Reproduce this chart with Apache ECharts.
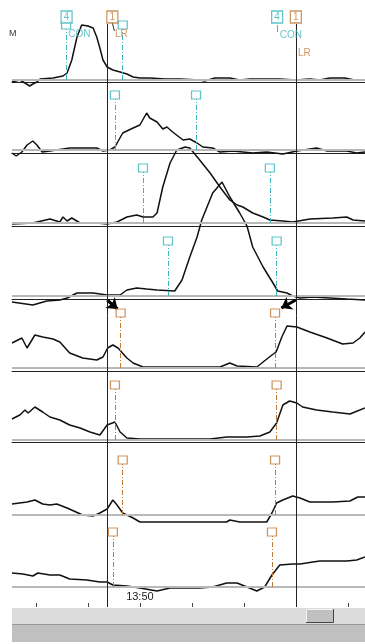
<!DOCTYPE html>
<html>
<head>
<meta charset="utf-8">
<script src="https://cdn.jsdelivr.net/npm/echarts@6/dist/echarts.min.js"></script>
<style>
html,body{margin:0;padding:0;background:#fff;}
#c{width:365px;height:644px;}
</style>
</head>
<body>
<div id="c"></div>
<script>
// Time axis: seconds relative to 13:50:00
const T_MIN = -24.6, T_MAX = 43.3;
const tickTimes = [-20, -10, 0, 10, 20, 30, 40];
const tickLabels = { 0: '13:50' };
const eventTimes = [-6.3, 30.0];

// Channel traces: [time (s), amplitude]
const trace1 = [[-24.6,-2],[-23.1,0],[-22.1,-3],[-21.2,-6],[-20.6,-4],[-19.8,-2],[-19.2,1],[-16.7,2],[-14.8,4],[-14.0,7],[-13.1,20],[-12.1,43],[-11.2,55],[-10.0,54],[-9.0,52],[-8.3,43],[-7.7,32],[-7.1,20],[-6.3,13],[-5.2,10],[-3.8,8],[-2.5,6],[-1.3,3],[0,2],[1.9,2],[4.8,1],[7.7,1],[11.5,0],[12.5,-1],[14.4,2],[17.3,2],[19.2,0],[21.2,1],[24.0,1],[26.9,1],[30.0,0],[32.7,1],[34.6,0],[36.5,2],[39.4,2],[41.3,0],[43.3,0]];
const trace2 = [[-24.6,-3],[-23.8,-6],[-22.7,-2],[-21.7,5],[-20.6,9],[-19.8,5],[-18.8,-2],[-17.3,-1],[-13.5,2],[-11.5,2],[-8.3,2],[-7.1,-1],[-5.8,0],[-4.8,3],[-3.3,17],[-1.3,22],[0,25],[1.3,37],[1.9,32],[3.3,28],[4.4,21],[5.2,23],[6.3,18],[8.3,10],[9.6,11],[11.0,7],[12.1,3],[14.0,2],[15.4,-2],[17.9,-1],[21.7,-3],[24.4,-2],[27.5,-4],[30.2,-1],[34.0,2],[36.0,-1],[39.8,-1],[41.7,-3],[43.3,-2]];
const trace3 = [[-24.6,-1],[-20.6,0],[-17.3,4],[-15.4,1],[-14.8,6],[-14.0,2],[-13.1,5],[-11.5,0],[-8.3,0],[-6.3,-1],[-4.4,1],[-2.5,6],[-0.6,8],[0.6,6],[2.5,6],[3.3,10],[4.4,36],[5.8,60],[7.1,73],[8.7,76],[9.6,75],[11.5,63],[13.5,50],[15.4,36],[17.3,23],[18.7,18],[19.8,16],[21.7,10],[23.7,6],[25.0,3],[27.5,2],[29.4,1],[32.7,4],[37.1,5],[39.8,6],[41.0,3],[43.3,2]];
const trace4 = [[-24.6,-6],[-20.6,-9],[-17.9,-5],[-15.4,-4],[-14.0,-2],[-12.1,3],[-9.0,3],[-6.3,1],[-3.8,1],[-2.5,6],[-0.6,8],[1.3,7],[3.3,6],[6.7,5],[8.1,16],[9.6,39],[11.0,59],[11.9,76],[14.0,103],[15.8,114],[17.3,99],[19.2,83],[20.6,70],[21.7,49],[23.7,29],[25.6,13],[26.5,5],[28.3,3],[29.4,0],[30.8,-2],[33.3,-1],[36.5,-2],[39.8,-3],[43.3,-4]];
const trace5 = [[-24.6,25],[-22.7,30],[-21.7,20],[-20.2,33],[-18.7,31],[-16.7,29],[-15.4,26],[-13.5,15],[-11.0,10],[-8.3,8],[-7.1,11],[-6.2,20],[-5.2,23],[-4.2,20],[-2.5,10],[-1.3,5],[0.6,1],[5.2,1],[15.4,1],[17.3,5],[18.7,2],[22.5,1],[23.7,6],[25.4,13],[26.2,16],[27.3,31],[28.3,42],[30.2,41],[32.7,36],[36.0,30],[39.0,24],[41.0,25],[42.3,30],[43.3,36]];
const trace6 = [[-24.6,21],[-23.1,25],[-22.1,30],[-21.5,27],[-20.2,33],[-18.7,28],[-17.3,23],[-15.4,20],[-13.5,15],[-11.5,12],[-9.6,8],[-7.7,5],[-6.3,15],[-4.8,18],[-3.8,8],[-2.5,2],[0,1],[13.5,1],[16.7,3],[20.6,3],[23.1,4],[25.0,8],[26.3,17],[27.5,35],[28.8,39],[30.2,37],[31.3,33],[34.0,30],[37.1,28],[40.4,26],[43.3,32]];
const trace7 = [[-24.6,11],[-21.7,13],[-20.2,15],[-18.7,11],[-17.3,10],[-16.0,11],[-14.0,7],[-11.0,0],[-9.0,-1],[-7.7,2],[-6.3,6],[-5.2,15],[-4.4,10],[-3.3,2],[-1.3,-3],[0,-7],[16.7,-7],[17.3,-5],[19.2,-7],[24.4,-7],[25.4,2],[26.3,12],[27.5,15],[29.4,19],[30.8,17],[32.7,13],[37.1,13],[40.4,14],[41.9,18],[43.3,18]];
const trace8 = [[-24.6,14],[-22.5,13],[-20.6,11],[-19.6,14],[-17.3,12],[-15.4,12],[-13.5,8],[-10.2,7],[-7.7,5],[-6.3,5],[-5.2,2],[-2.5,1],[0,-1],[3.3,-4],[5.8,-1],[11.5,-1],[14.0,0],[16.7,4],[18.7,4],[20.6,0],[22.5,-4],[24.0,0],[25.4,12],[26.9,22],[29.4,23],[30.8,23],[33.3,25],[34.6,26],[37.1,26],[39.8,26],[41.7,27],[43.3,30]];

// Scored event markers per channel (times in s)
const marks1 = [-14.2, -3.3];
const marks2 = [-4.8, 10.8];
const marks3 = [0.6, 25.0];
const marks4 = [5.4, 26.3];
const marks5 = [-3.7, 26.0];
const marks6 = [-4.8, 26.3];
const marks7 = [-3.3, 26.0];
const marks8 = [-5.2, 25.4];

// Event header tags
const tag4Times = [-14.1, 26.4];
const tag1Times = [-5.3, 30.0];
const conTimes = [-14.0, 26.7];
const lrTimes = [-5.0, 30.2];

const TEAL = '#3ab5bd';
const ORANGE = '#c27a3a';
const FONT = 'Liberation Sans, Arial, sans-serif';

const traces = [trace1, trace2, trace3, trace4, trace5, trace6, trace7, trace8];
const marks = [marks1, marks2, marks3, marks4, marks5, marks6, marks7, marks8];
const markColors = [TEAL, TEAL, TEAL, TEAL, ORANGE, ORANGE, ORANGE, ORANGE];

// Channel strip layout: top, height (baseline at bottom), separator offset
const strips = [
  { top: 0,   h: 80, sep: 2 },
  { top: 82,  h: 68, sep: 3 },
  { top: 153, h: 70, sep: 3 },
  { top: 226, h: 70, sep: 3 },
  { top: 299, h: 69, sep: 3 },
  { top: 371, h: 69, sep: 2 },
  { top: 442, h: 73, sep: null },
  { top: 515, h: 72, sep: null }
];
const MARK_H = 55;

const grid = [], xAxis = [], yAxis = [], series = [];

strips.forEach((s, i) => {
  grid.push({ left: 12, right: 0, top: s.top, height: s.h });
  const last = i === strips.length - 1;
  xAxis.push({
    type: 'value', gridIndex: i, min: T_MIN, max: T_MAX,
    position: 'bottom',
    offset: last ? 20 : (s.sep || 0),
    axisLine: { show: s.sep !== null, onZero: false, lineStyle: { color: '#222', width: 1 } },
    axisTick: last ? { show: true, inside: true, length: 4, customValues: tickTimes, lineStyle: { color: '#444' } } : { show: false },
    axisLabel: last ? {
      show: true, inside: true, margin: 5, customValues: [0],
      formatter: v => tickLabels[v] || '', fontSize: 11, color: '#222', fontFamily: FONT
    } : { show: false },
    splitLine: { show: false }
  });
  yAxis.push({ type: 'value', gridIndex: i, min: 0, max: s.h, show: false });

  series.push({
    type: 'line', xAxisIndex: i, yAxisIndex: i,
    data: traces[i], showSymbol: false, clip: false, z: 4,
    lineStyle: { color: '#111', width: 1.5 },
    animation: false,
    markLine: {
      silent: true, symbol: 'none', label: { show: false },
      lineStyle: { color: '#b8b8b8', width: 2, type: 'solid' },
      data: [{ yAxis: 0 }], animation: false
    }
  });

  const c = markColors[i];
  series.push({
    type: 'scatter', xAxisIndex: i, yAxisIndex: i, z: 6,
    data: marks[i].map(t => [t, MARK_H]),
    symbol: 'rect', symbolSize: [9, 8], clip: false,
    itemStyle: { color: '#fff', borderColor: c, borderWidth: 1.2 },
    animation: false,
    markLine: {
      silent: true, symbol: 'none', label: { show: false },
      lineStyle: { color: c, width: 1, type: [5, 2, 1, 2] },
      data: marks[i].map(t => [{ coord: [t, 0] }, { coord: [t, MARK_H - 4] }]),
      animation: false
    }
  });
});

// Arrows pointing at the marked onsets of channel 5
series.push({
  type: 'line', xAxisIndex: 4, yAxisIndex: 4, data: [], z: 7, animation: false,
  markLine: {
    silent: true, symbol: ['none', 'arrow'], symbolSize: [11, 10],
    label: { show: false },
    lineStyle: { color: '#000', width: 3, type: 'solid' },
    data: [
      [{ coord: [eventTimes[0], 68] }, { coord: [-4.3, 59] }],
      [{ coord: [eventTimes[1], 68] }, { coord: [27.2, 60] }]
    ],
    animation: false
  }
});

// Header tags on channel 1
series.push({
  type: 'scatter', xAxisIndex: 0, yAxisIndex: 0, z: 9, clip: false, animation: false,
  symbol: 'rect', symbolSize: [11, 12],
  data: [
    ...tag4Times.map(t => ({ value: [t, 63], name: '4', itemStyle: { borderColor: TEAL }, label: { color: TEAL } })),
    ...tag1Times.map(t => ({ value: [t, 63], name: '1', itemStyle: { borderColor: ORANGE }, label: { color: ORANGE } }))
  ],
  itemStyle: { color: '#fff', borderWidth: 1.3 },
  label: { show: true, position: 'inside', formatter: p => p.name, fontSize: 10, fontFamily: FONT },
  markLine: {
    silent: true, symbol: 'none', label: { show: false },
    data: [
      [{ coord: [tag4Times[1], 55], lineStyle: { color: TEAL, width: 1, type: 'solid' } }, { coord: [tag4Times[1], 48] }],
      [{ coord: [tag1Times[0], 57], lineStyle: { color: '#333', width: 1, type: 'solid' } }, { coord: [tag1Times[0] + 0.4, 49] }]
    ],
    animation: false
  }
});
series.push({
  type: 'scatter', xAxisIndex: 0, yAxisIndex: 0, z: 9, clip: false, animation: false,
  symbolSize: 0.1, itemStyle: { color: 'rgba(0,0,0,0)' },
  data: [
    { value: [conTimes[0], 46], name: 'CON', label: { color: TEAL } },
    { value: [conTimes[1], 45], name: 'CON', label: { color: TEAL } },
    { value: [lrTimes[0], 46], name: 'LR', label: { color: ORANGE } },
    { value: [lrTimes[1], 27], name: 'LR', label: { color: ORANGE } }
  ],
  label: { show: true, position: 'right', distance: 1, formatter: p => p.name, fontSize: 10, fontFamily: FONT }
});

// Full-height event cursor lines
grid.push({ left: 12, right: 0, top: 24, bottom: 37 });
xAxis.push({ type: 'value', gridIndex: 8, min: T_MIN, max: T_MAX, show: false });
yAxis.push({ type: 'value', gridIndex: 8, min: 0, max: 1, show: false });
series.push({
  type: 'line', xAxisIndex: 8, yAxisIndex: 8, data: [], z: 5, animation: false,
  markLine: {
    silent: true, symbol: 'none', label: { show: false },
    lineStyle: { color: '#222', width: 1, type: 'solid' },
    data: eventTimes.map(t => ({ xAxis: t })),
    animation: false
  }
});

const chart = echarts.init(document.getElementById('c'), null, { renderer: 'canvas' });
chart.setOption({
  animation: false,
  backgroundColor: '#fff',
  grid, xAxis, yAxis, series,
  graphic: [
    { type: 'text', left: 9, top: 29, style: { text: 'M', fontSize: 9, fill: '#333', fontFamily: FONT } },
    // scroll track
    { type: 'rect', shape: { x: 12, y: 608, width: 353, height: 16 }, style: { fill: '#dcdcdc' } },
    { type: 'rect', shape: { x: 12, y: 624, width: 353, height: 1 }, style: { fill: '#9a9a9a' } },
    { type: 'rect', shape: { x: 12, y: 625, width: 353, height: 17 }, style: { fill: '#c0c0c0' } },
    // scroll thumb
    { type: 'rect', shape: { x: 306, y: 609, width: 27, height: 14 }, style: { fill: '#c0c0c0', stroke: null } },
    { type: 'polyline', shape: { points: [[306, 622.5], [333.5, 622.5], [333.5, 609]] }, style: { stroke: '#444', lineWidth: 1, fill: null } },
    { type: 'polyline', shape: { points: [[306.5, 622], [306.5, 609.5], [333, 609.5]] }, style: { stroke: '#f4f4f4', lineWidth: 1, fill: null } }
  ]
});
</script>
</body>
</html>
